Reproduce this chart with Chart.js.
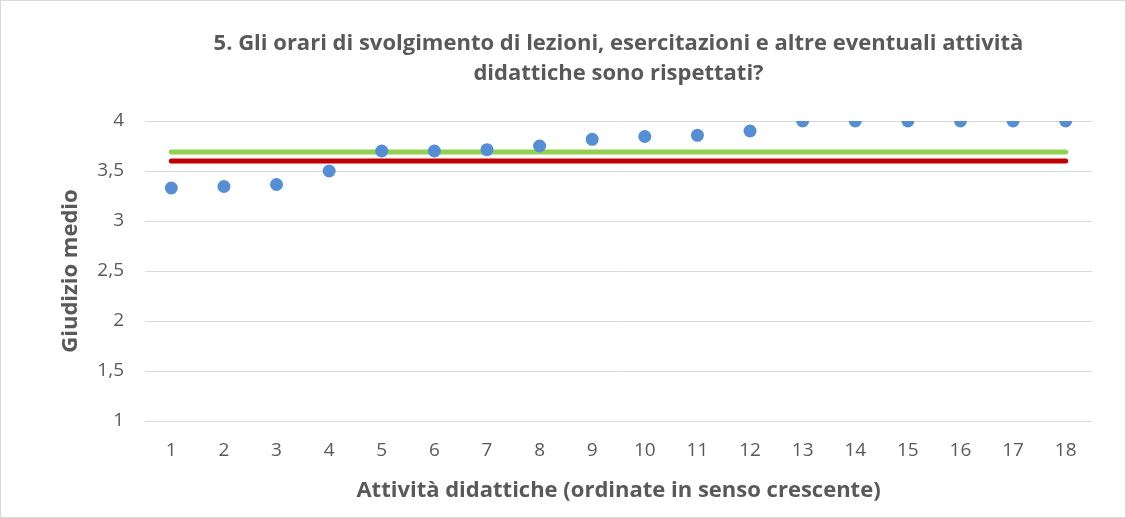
<!DOCTYPE html>
<html>
<head>
<meta charset="utf-8">
<script src="https://cdn.jsdelivr.net/npm/chart.js@4"></script>
<style>
  html, body { margin: 0; padding: 0; background: #fff; }
  #wrap { position: relative; width: 1124px; height: 516px; border: 1px solid #d9d9d9; }
</style>
</head>
<body>
<div id="wrap"><canvas id="myChart"></canvas></div>
<script>
const categories = ["1","2","3","4","5","6","7","8","9","10","11","12","13","14","15","16","17","18"];
const giudizioMedio = [3.33, 3.345, 3.365, 3.5, 3.7, 3.7, 3.713, 3.75, 3.817, 3.845, 3.857, 3.9, 4, 4, 4, 4, 4, 4];
const mediaVerde = 3.69;
const mediaRossa = 3.6;
const yTicks = [1, 1.5, 2, 2.5, 3, 3.5, 4];
const titleLines = ["5. Gli orari di svolgimento di lezioni, esercitazioni e altre eventuali attività", "didattiche sono rispettati?"];

const grey = "#595959";
const font = "'Open Sans', sans-serif";

// title centred over the plot area, like the Excel original
const titlePlugin = {
  id: "plotTitle",
  afterDraw(chart) {
    const { ctx, chartArea } = chart;
    const cx = (chartArea.left + chartArea.right) / 2;
    ctx.save();
    ctx.font = "bold 22px " + font;
    ctx.fillStyle = grey;
    ctx.textAlign = "center";
    ctx.textBaseline = "middle";
    titleLines.forEach((line, i) => ctx.fillText(line, cx, 43 + i * 30));
    ctx.restore();
  },
};

const context = document.getElementById("myChart").getContext("2d");
const newChart = new Chart(context, {
  type: "line",
  data: {
    labels: categories,
    datasets: [
      {
        label: "Giudizio medio",
        data: giudizioMedio,
        showLine: false,
        pointRadius: 6.5,
        pointHoverRadius: 6.5,
        pointBackgroundColor: "#558ED5",
        pointBorderWidth: 0,
      },
      {
        label: "verde",
        data: [{ x: categories[0], y: mediaVerde }, { x: categories[categories.length - 1], y: mediaVerde }],
        borderColor: "#92D050",
        borderWidth: 5,
        borderCapStyle: "round",
        pointRadius: 0,
      },
      {
        label: "rossa",
        data: [{ x: categories[0], y: mediaRossa }, { x: categories[categories.length - 1], y: mediaRossa }],
        borderColor: "#C00000",
        borderWidth: 5,
        borderCapStyle: "round",
        pointRadius: 0,
      },
    ],
  },
  plugins: [titlePlugin],
  options: {
    responsive: true,
    maintainAspectRatio: false,
    animation: false,
    layout: { padding: { left: 57, right: 33, top: 120, bottom: 13 } },
    plugins: {
      legend: { display: false },
      tooltip: { enabled: false },
      title: { display: false },
    },
    scales: {
      x: {
        type: "category",
        offset: true,
        afterFit: (axis) => { axis.height = 83; },
        grid: { display: false, drawTicks: false },
        border: { display: false },
        ticks: { color: grey, font: { family: font, size: 19 }, padding: 18 },
        title: {
          display: true,
          text: "Attività didattiche (ordinate in senso crescente)",
          color: grey,
          font: { family: font, size: 22, weight: "bold" },
          padding: 0,
        },
      },
      y: {
        min: 1,
        max: 4,
        afterBuildTicks: (axis) => { axis.ticks = yTicks.map((v) => ({ value: v })); },
        afterFit: (axis) => { axis.width = 87; },
        grid: { color: "#d9d9d9", lineWidth: 1, drawTicks: false },
        border: { display: false },
        ticks: {
          color: grey,
          font: { family: font, size: 19 },
          padding: 21,
          callback: (v) => String(v).replace(".", ","),
        },
        title: {
          display: true,
          text: "Giudizio medio",
          color: grey,
          font: { family: font, size: 22, weight: "bold" },
          padding: 0,
        },
      },
    },
  },
});
</script>
</body>
</html>
